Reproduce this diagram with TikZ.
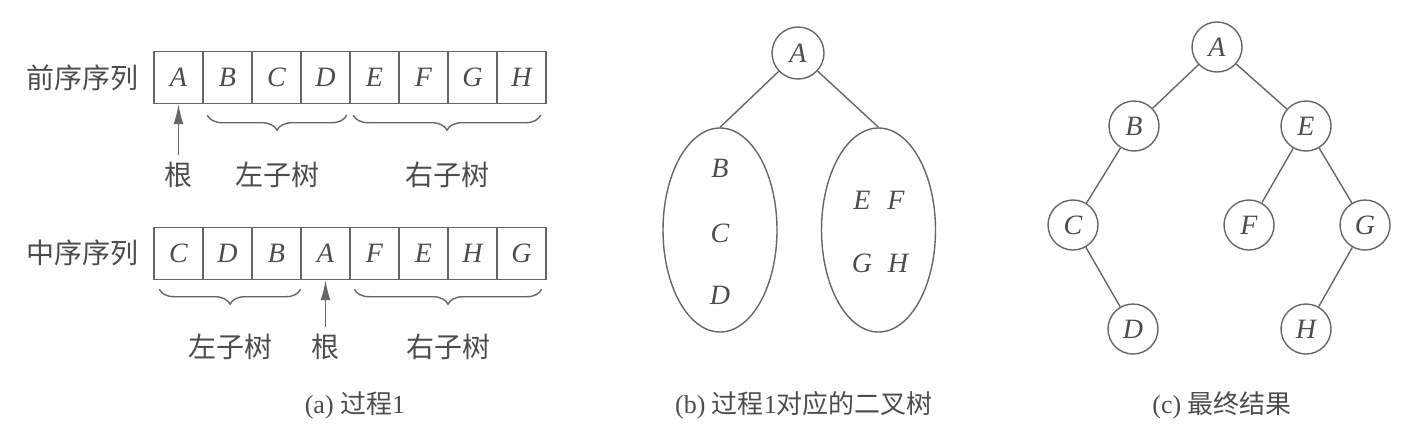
\documentclass[tikz,border=0pt]{standalone}
\usepackage{fontspec}
\setmainfont{Liberation Serif}
\newfontfamily\cjk{Noto Sans CJK SC}
\usetikzlibrary{shapes.geometric,decorations.pathreplacing,arrows.meta}
\definecolor{ln}{gray}{0.40}
\definecolor{tx}{gray}{0.30}
\begin{document}
\begin{tikzpicture}[x=0.5pt,y=-0.5pt,
  letter/.style={font=\fontsize{14}{16}\selectfont\itshape,text=tx},
  cell/.style={letter,draw=ln,line width=0.7pt,minimum width=24.5pt,minimum height=26pt,inner sep=0pt},
  cjklab/.style={font=\fontsize{14}{16}\selectfont\cjk,text=tx},
  capt/.style={font=\fontsize{13}{15}\selectfont,text=tx},
  vtx/.style={letter,circle,draw=ln,line width=0.7pt,minimum size=25pt,inner sep=0pt},
  ell/.style={ellipse,draw=ln,line width=0.7pt,minimum width=57pt,minimum height=102pt,inner sep=0pt},
  edge/.style={draw=ln,line width=0.7pt},
  arr/.style={draw=ln,line width=0.7pt,-{Latex[length=10pt,width=5pt]}},
  brc/.style={draw=ln,line width=0.7pt,decorate,decoration={brace,amplitude=7.5pt}}]
\useasboundingbox (0,0) rectangle (1416,440);
% ---------- (a) ----------
\node[cjklab] (pre) at (82,78) {前序序列};
\foreach \i/\t in {1/A,2/B,3/C,4/D,5/E,6/F,7/G,8/H}
  \node[cell] (p\i) at ({154+49*(\i-0.5)},77.5) {\t};
\node[cjklab] (pr) at (178.5,175) {根};
\node[cjklab] (pl) at (277,175) {左子树};
\node[cjklab] (prr) at (447,175) {右子树};
\draw[arr] (pr) -- (p1.south);
\draw[brc] ([xshift=-2pt,yshift=-5.5pt]p4.south east) -- ([xshift=2.5pt,yshift=-5.5pt]p2.south west);
\draw[brc] ([xshift=-3pt,yshift=-5.5pt]p8.south east) -- ([xshift=2pt,yshift=-5.5pt]p5.south west);

\node[cjklab] (ino) at (82,253) {中序序列};
\foreach \i/\t in {1/C,2/D,3/B,4/A,5/F,6/E,7/H,8/G}
  \node[cell] (q\i) at ({154+49*(\i-0.5)},253.5) {\t};
\node[cjklab] (ql) at (230,347) {左子树};
\node[cjklab] (qr) at (325.5,347) {根};
\node[cjklab] (qrr) at (448,347) {右子树};
\draw[arr] (qr) -- (q4.south);
\draw[brc] ([xshift=-0.5pt,yshift=-4.5pt]q3.south east) -- ([xshift=3pt,yshift=-4.5pt]q1.south west);
\draw[brc] ([xshift=-2.5pt,yshift=-4.5pt]q8.south east) -- ([xshift=2.5pt,yshift=-4.5pt]q5.south west);

\node[capt] (ca) at (355,405) {(a) {\cjk 过程}1};
% ---------- (b) ----------
\node[vtx,minimum size=26pt] (bA) at (798,53) {A};
\node[ell] (bL) at (720,230) {};
\node[ell] (bR) at (878.5,230) {};
\draw[edge] (bA) -- (bL.north);
\draw[edge] (bA) -- (bR.north);
\node[letter] (bB) at (720,168) {B};
\node[letter] (bC) at (720,233) {C};
\node[letter] (bD) at (720,295) {D};
\node[letter] (bE) at (862,200) {E};
\node[letter] (bF) at (896,200) {F};
\node[letter] (bG) at (862,263) {G};
\node[letter] (bH) at (898,263) {H};
\node[capt] (cb) at (804,405) {(b) {\cjk 过程}1{\cjk 对应的二叉树}};
% ---------- (c) ----------
\node[vtx] (cA) at (1217,47) {A};
\node[vtx] (cB) at (1134,126) {B};
\node[vtx] (cE) at (1306,126) {E};
\node[vtx] (cC) at (1073,225) {C};
\node[vtx] (cF) at (1249,225) {F};
\node[vtx] (cG) at (1365,225) {G};
\node[vtx] (cD) at (1133,329) {D};
\node[vtx] (cH) at (1306,329) {H};
\draw[edge] (cA) -- (cB);
\draw[edge] (cA) -- (cE);
\draw[edge] (cB) -- (cC);
\draw[edge] (cC) -- (cD);
\draw[edge] (cE) -- (cF);
\draw[edge] (cE) -- (cG);
\draw[edge] (cG) -- (cH);
\node[capt] (cc) at (1222,405) {(c) {\cjk 最终结果}};
\end{tikzpicture}
\end{document}
